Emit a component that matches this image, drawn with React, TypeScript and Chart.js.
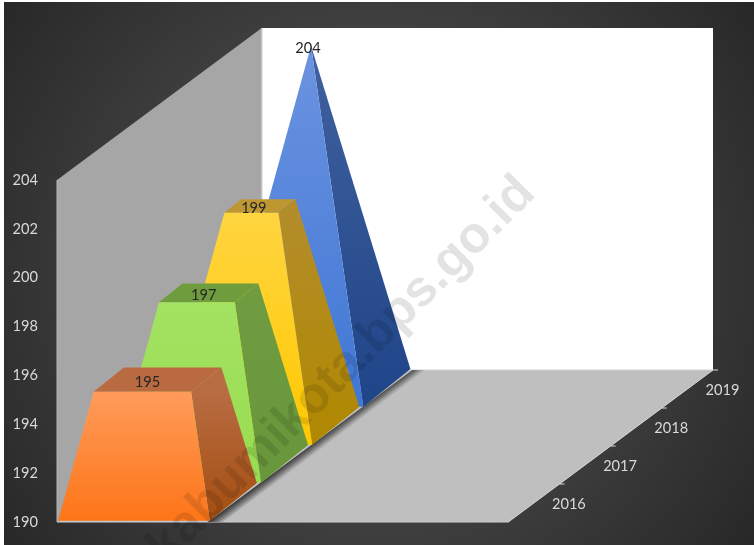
import React, { useEffect, useRef } from "react";
import { Chart, registerables } from "chart.js";

Chart.register(...registerables);

const years = ["2016", "2017", "2018", "2019"];
const values = [195, 197, 199, 204];
const yTicks = [190, 192, 194, 196, 198, 200, 202, 204];
const labelNudge = [-10, -5, -6, -3];

const yMin = 190;
const yTop = 204;
const yMax = 210.26;
const depthX = 0.1134; // x-axis units per category of depth
const depthY = 1.555; // y-axis units per category of depth
const barCentre = 0.166;
const barHalfWidth = 0.168;
const barHalfDepthX = 0.46;
const barHalfDepthY = 0.497;
const barLift = 0.03;
const depthCount = years.length;

const palette = [
  { front: ["#ff9b5a", "#fd7518"], side: ["#b86c42", "#a44e10"], top: ["#b96a40", "#b96a40"] },
  { front: ["#a3e262", "#98dc50"], side: ["#6f9c40", "#68963a"], top: ["#6f9c3c", "#6f9c3c"] },
  { front: ["#ffd540", "#ffc800"], side: ["#b38d2a", "#b08800"], top: ["#be9733", "#be9733"] },
  { front: ["#6c93e0", "#3f77d5"], side: ["#40619e", "#1f4488"], top: ["#40619e", "#40619e"] },
];

type P = { x: number; y: number };
const proj = (u: number, dx: number, v: number, dy: number = dx): P => ({
  x: u + dx * depthX,
  y: v + dy * depthY,
});

const vGradient = (colors: string[], vHigh: number, vLow: number) => (c: any) => {
  const { chart } = c;
  const s = chart.scales.y;
  if (!chart.chartArea || !s) return colors[0];
  const g = chart.ctx.createLinearGradient(0, s.getPixelForValue(vHigh), 0, s.getPixelForValue(vLow));
  g.addColorStop(0, colors[0]);
  g.addColorStop(1, colors[1]);
  return g;
};

const polygon = (label: string, data: P[], backgroundColor: any) => ({
  label,
  data,
  backgroundColor,
  borderWidth: 0,
  borderColor: "rgba(0,0,0,0)",
  fill: "shape",
  showLine: true,
  pointRadius: 0,
  tension: 0,
  clip: false,
});

const edge = (label: string, data: P[], color: string, width = 1) => ({
  label,
  data,
  borderColor: color,
  borderWidth: width,
  backgroundColor: "rgba(0,0,0,0)",
  fill: false,
  showLine: true,
  pointRadius: 0,
  tension: 0,
  clip: false,
});

function barDatasets(i: number) {
  const v = values[i];
  const t = (v - yMin) / (yTop - yMin);
  const dc = i + 0.5;
  const dcY = dc + barLift;
  const uL = barCentre - barHalfWidth;
  const uR = barCentre + barHalfWidth;
  const tuL = barCentre - barHalfWidth * (1 - t);
  const tuR = barCentre + barHalfWidth * (1 - t);
  const s = 1 - t;
  const baseFront = (u: number) => proj(u, dc - barHalfDepthX, yMin, dcY - barHalfDepthY);
  const baseBack = (u: number) => proj(u, dc + barHalfDepthX, yMin, dcY + barHalfDepthY);
  const topFront = (u: number) => proj(u, dc - barHalfDepthX * s, v, dcY - barHalfDepthY * s);
  const topBack = (u: number) => proj(u, dc + barHalfDepthX * s, v, dcY + barHalfDepthY * s);
  const col = palette[i];
  const high = topFront(tuL).y;
  const low = baseFront(uL).y;
  return [
    polygon(`${years[i]} front`, [baseFront(uL), baseFront(uR), topFront(tuR), topFront(tuL)], vGradient(col.front, high, low)),
    polygon(`${years[i]} top`, [topFront(tuL), topFront(tuR), topBack(tuR), topBack(tuL)], col.top[0]),
    polygon(`${years[i]} side`, [baseFront(uR), baseBack(uR), topBack(tuR), topFront(tuR)], vGradient(col.side, high, low)),
  ];
}

function floorShadow() {
  const uR = barCentre + barHalfWidth;
  const spread = 0.034;
  const a = proj(uR, 0, yMin);
  const b = proj(uR, depthCount, yMin);
  const grad = (c: any) => {
    const { chart } = c;
    const sx = chart.scales.x;
    const sy = chart.scales.y;
    if (!chart.chartArea || !sx || !sy) return "rgba(0,0,0,0.4)";
    const x0 = sx.getPixelForValue((a.x + b.x) / 2);
    const y0 = sy.getPixelForValue((a.y + b.y) / 2);
    const g = chart.ctx.createLinearGradient(x0, y0, x0 + 5.6, y0 + 7.4);
    g.addColorStop(0, "rgba(40,40,40,0.85)");
    g.addColorStop(0.45, "rgba(60,60,60,0.55)");
    g.addColorStop(1, "rgba(90,90,90,0)");
    return g;
  };
  return polygon("floor shadow", [a, b, proj(uR + spread, depthCount, yMin), proj(uR + spread, 0, yMin)], grad);
}

function buildDatasets() {
  const front = (u: number, v: number) => proj(u, 0, v);
  const back = (u: number, v: number) => proj(u, depthCount, v);
  const walls = [
    edge("floor front", [front(0, yMin), front(1, yMin)], "#cfcfcf", 1),
    edge("floor side", [front(1, yMin), back(1, yMin)], "#d9d9d9", 1),
    edge("wall foot", [back(0, yMin), back(1, yMin)], "#d0d0d0", 1),
    edge("wall corner", [back(0, yMin), back(0, yTop)], "#c4c4c4", 1.5),
    edge("wall edge", [front(0, yMin), front(0, yTop)], "#b5b5b5", 1),
    polygon("back wall", [back(0, yMin), back(1, yMin), back(1, yTop), back(0, yTop)], "#ffffff"),
    polygon("floor", [front(0, yMin), front(1, yMin), back(1, yMin), back(0, yMin)], "#bfbfbf"),
    polygon("side wall", [front(0, yMin), back(0, yMin), back(0, yTop), front(0, yTop)], "#a6a6a6"),
  ];
  const bars: any[] = [];
  for (let i = 0; i < values.length; i++) bars.push(...barDatasets(i));
  return [...bars, floorShadow(), ...walls];
}

const frame = {
  id: "frame",
  beforeDraw(chart: any) {
    const { ctx, width, height } = chart;
    ctx.save();
    ctx.fillStyle = "#ffffff";
    ctx.fillRect(0, 0, width, height);
    const g = ctx.createRadialGradient(377, 272, 0, 377, 272, 460);
    g.addColorStop(0, "#5a5a5a");
    g.addColorStop(1, "#282828");
    ctx.fillStyle = g;
    ctx.fillRect(4, 2, width - 4, height - 2);
    ctx.restore();
  },
};

const annotations = {
  id: "annotations",
  afterDatasetsDraw(chart: any) {
    const { ctx, scales } = chart;
    const px = (p: P) => ({ x: scales.x.getPixelForValue(p.x), y: scales.y.getPixelForValue(p.y) });
    ctx.save();
    ctx.font = '14.6px Lato';
    ctx.textAlign = "center";
    ctx.textBaseline = "middle";
    // depth axis
    ctx.fillStyle = "#d9d9d9";
    years.forEach((yr, i) => {
      const p = px(proj(1, i + 0.5, yMin));
      ctx.fillText(yr, p.x + 35, p.y + 1);
    });
    ctx.strokeStyle = "#d9d9d9";
    ctx.lineWidth = 1;
    for (let i = 1; i <= depthCount; i++) {
      const p = px(proj(1, i, yMin));
      ctx.beginPath();
      ctx.moveTo(p.x, p.y);
      ctx.lineTo(p.x + 5, p.y);
      ctx.stroke();
    }
    // value labels
    ctx.fillStyle = "#262626";
    values.forEach((v, i) => {
      const p = px(proj(barCentre, i + 0.5, v));
      ctx.fillText(String(v), p.x + labelNudge[i], p.y + 1);
    });
    // watermark
    const end = { x: 537, y: 195 };
    ctx.translate(end.x, end.y);
    ctx.rotate((-45 * Math.PI) / 180);
    ctx.textAlign = "right";
    ctx.textBaseline = "alphabetic";
    ctx.font = 'bold 51px "Liberation Sans"';
    ctx.fillStyle = "rgba(0,0,0,0.11)";
    ctx.fillText("sukabumikota.bps.go.id", 0, 0);
    ctx.restore();
  },
};

export default function App() {
  const ref = useRef<HTMLCanvasElement>(null);
  useEffect(() => {
    document.body.style.margin = "0";
    const chart = new Chart(ref.current!, {
      type: "scatter",
      data: { datasets: buildDatasets() as any },
      plugins: [frame, annotations],
      options: {
        animation: false,
        responsive: false,
        events: [],
        layout: { padding: { top: 27, right: 41, bottom: 23, left: 0 } },
        plugins: { legend: { display: false }, tooltip: { enabled: false }, title: { display: false } },
        scales: {
          x: { type: "linear", min: 0, max: 1 + depthCount * depthX, display: false },
          y: {
            type: "linear",
            min: yMin,
            max: yMax,
            afterFit: (s: any) => {
              s.width = 57;
              s.paddingTop = 0;
              s.paddingBottom = 0;
            },
            afterBuildTicks: (s: any) => {
              s.ticks = yTicks.map((value) => ({ value }));
            },
            grid: { display: false },
            border: { display: false },
            ticks: { color: "#d9d9d9", font: { family: "Lato", size: 14.6 }, padding: 11, autoSkip: false },
          },
        },
      } as any,
    });
    return () => chart.destroy();
  }, []);
  return (
    <div style={{ position: "absolute", left: 0, top: 0, width: 754, height: 545 }}>
      <canvas ref={ref} width={754} height={545} style={{ display: "block", width: 754, height: 545 }} />
    </div>
  );
}
